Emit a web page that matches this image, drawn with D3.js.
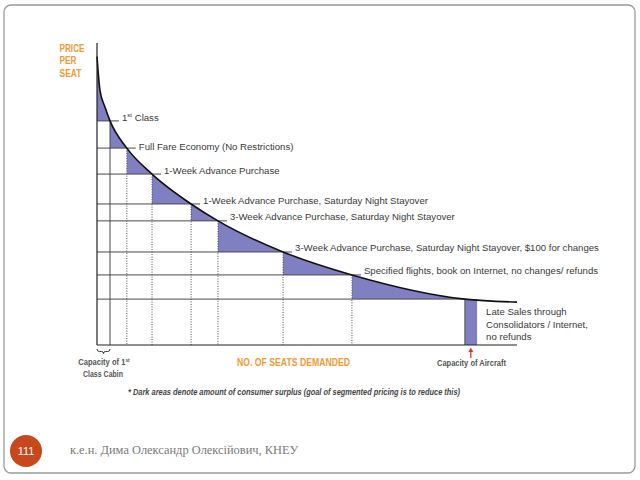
<!DOCTYPE html>
<html><head><meta charset="utf-8">
<script src="https://cdn.jsdelivr.net/npm/d3@7"></script>
<style>body{margin:0;background:#fff}svg{display:block}</style>
</head><body><svg id="c" width="640" height="480"></svg>
<script>
// ---- data ----
const stepLabels = [
  "1st Class",
  "Full Fare Economy (No Restrictions)",
  "1-Week Advance Purchase",
  "1-Week Advance Purchase, Saturday Night Stayover",
  "3-Week Advance Purchase, Saturday Night Stayover",
  "3-Week Advance Purchase, Saturday Night Stayover, $100 for changes",
  "Specified flights, book on Internet, no changes/ refunds"
];
const stepSeats  = [3.1, 7.1, 13.1, 22.4, 28.8, 44.3, 60.7, 87.6];
const stepPrices = [74.2, 65.2, 56.6, 46.7, 41.1, 30.8, 23.2, 15.2];
const curveSeats  = [0, 0.7, 1.9, 3.1, 7.1, 13.1, 22.4, 28.8, 44.3, 60.7, 87.6, 100];
const curvePrices = [95.5, 84.4, 78.8, 74.2, 65.2, 56.6, 46.7, 41.1, 30.8, 23.2, 15.2, 14.2];
const lateSalesSeats = [87.6, 90.5];
const lateSalesPrice = 15.2;
const lateSalesLabel = ["Late Sales through", "Consolidators / Internet,", "no refunds"];
const firstClassCapacity = 3.1;
const aircraftCapacity = 89.0;
const yTitle = ["PRICE", "PER", "SEAT"];
const xTitle = "NO. OF SEATS DEMANDED";
const footnote = "* Dark areas denote amount of consumer surplus (goal of segmented pricing is to reduce this)";
const footer = "к.е.н. Дима Олександр Олексійович, КНЕУ";
const slideNo = "111";

// ---- layout ----
const svg = d3.select("#c");
const x = d3.scaleLinear().domain([0, 100]).range([97, 517]);
const y = d3.scaleLinear().domain([0, 100]).range([345, 43]);
const ORANGE = "#ee9a35", PURPLE = "#7f7fc2", GRID = "#4a4a4a", TXT = "#3a3a3a";
const SANS = "'Liberation Sans', Arial, sans-serif";

function narrow(sel, w) {
  return sel.attr("textLength", w).attr("lengthAdjust", "spacingAndGlyphs");
}

// slide frame
svg.append("rect").attr("x", 4).attr("y", 5).attr("width", 631).attr("height", 468)
  .attr("rx", 7).attr("fill", "none").attr("stroke", "#9b9b9b").attr("stroke-width", 1.3);

const pts = curveSeats.map((s, i) => [s, curvePrices[i]]);
const curveGen = d3.curveMonotoneX;

// shaded consumer-surplus areas
const area = d3.area().x(d => x(d[0])).y0(y(0)).y1(d => y(d[1])).curve(curveGen);
const defs = svg.append("defs");
stepSeats.forEach((s, i) => {
  const prev = i === 0 ? 0 : stepSeats[i - 1];
  defs.append("clipPath").attr("id", "cp" + i).append("rect")
    .attr("x", x(prev)).attr("y", 0)
    .attr("width", x(s) - x(prev)).attr("height", y(stepPrices[i]));
  svg.append("path").attr("d", area(pts)).attr("fill", PURPLE)
    .attr("clip-path", `url(#cp${i})`);
});
// late sales bar
svg.append("rect").attr("x", x(lateSalesSeats[0])).attr("y", y(lateSalesPrice))
  .attr("width", x(lateSalesSeats[1]) - x(lateSalesSeats[0]))
  .attr("height", y(0) - y(lateSalesPrice)).attr("fill", PURPLE);

// horizontal level lines (extend past the corner as label leaders)
stepSeats.forEach((s, i) => {
  const ext = i < stepLabels.length ? 9 : 0;
  svg.append("line").attr("x1", x(0)).attr("x2", x(s) + ext)
    .attr("y1", y(stepPrices[i])).attr("y2", y(stepPrices[i]))
    .attr("stroke", GRID).attr("stroke-width", 1);
});
// vertical lines
stepSeats.forEach((s, i) => {
  svg.append("line").attr("x1", x(s)).attr("x2", x(s))
    .attr("y1", y(stepPrices[i])).attr("y2", y(0))
    .attr("stroke", GRID).attr("stroke-width", 1)
    .attr("stroke-dasharray", i === 0 || i === stepSeats.length - 1 ? null : "1,1.5");
});

// demand curve
svg.append("path").attr("d", d3.line().x(d => x(d[0])).y(d => y(d[1])).curve(curveGen)(pts))
  .attr("fill", "none").attr("stroke", "#111").attr("stroke-width", 1.6);

// axes
svg.append("line").attr("x1", x(0)).attr("x2", x(0)).attr("y1", y(100)).attr("y2", y(0))
  .attr("stroke", "#222").attr("stroke-width", 1.2);
svg.append("line").attr("x1", x(0)).attr("x2", x(100)).attr("y1", y(0)).attr("y2", y(0))
  .attr("stroke", "#222").attr("stroke-width", 1.2);

// step labels
stepLabels.forEach((lab, i) => {
  const t = svg.append("text").attr("x", x(stepSeats[i]) + 12)
    .attr("y", y(stepPrices[i]) + [0, 2, 0, 0, -1, -1, -1][i])
    .attr("font-family", SANS).attr("font-size", 9.6).attr("fill", TXT);
  if (lab.startsWith("1st")) {
    t.append("tspan").text("1");
    t.append("tspan").text("st").attr("font-size", 6).attr("dy", -3.5);
    t.append("tspan").text(" Class").attr("dy", 3.5);
  } else t.text(lab);
});
// late sales label
lateSalesLabel.forEach((l, i) => {
  svg.append("text").attr("x", x(lateSalesSeats[1]) + 9).attr("y", 315 + i * 12.6)
    .attr("font-family", SANS).attr("font-size", 9.6).attr("fill", TXT).text(l);
});

// y title
const yTitleW = [25, 17, 22];
yTitle.forEach((t, i) => {
  narrow(svg.append("text").attr("x", 59.5).attr("y", 52 + i * 12.3)
    .attr("font-family", SANS).attr("font-weight", "bold").attr("font-size", 10.5)
    .attr("fill", ORANGE).text(t), yTitleW[i]);
});
// x title
narrow(svg.append("text").attr("x", 237).attr("y", 366)
  .attr("font-family", SANS).attr("font-weight", "bold").attr("font-size", 10.5)
  .attr("fill", ORANGE).text(xTitle), 113);

// first-class capacity brace + label
const bx0 = x(0), bx1 = x(firstClassCapacity), bm = (bx0 + bx1) / 2, by = y(0) + 4;
svg.append("path")
  .attr("d", `M${bx0},${by} q0,2.5 2.5,2.5 H${bm - 2} q2,0 2,2 q0,-2 2,-2 H${bx1 - 2.5} q2.5,0 2.5,-2.5`)
  .attr("fill", "none").attr("stroke", "#333").attr("stroke-width", 1);
const capG = svg.append("g").attr("transform", "translate(104,365) scale(0.88,1)");
const cap1 = capG.append("text").attr("x", 0).attr("y", 0).attr("text-anchor", "middle")
  .attr("font-family", SANS).attr("font-weight", "bold").attr("font-size", 8.6).attr("fill", "#555");
cap1.append("tspan").text("Capacity of 1");
cap1.append("tspan").text("st").attr("font-size", 5.5).attr("dy", -3);
narrow(svg.append("text").attr("x", 83).attr("y", 376.5)
  .attr("font-family", SANS).attr("font-weight", "bold").attr("font-size", 8.6).attr("fill", "#555")
  .text("Class Cabin"), 40);

// aircraft capacity arrow + label
const ax = x(aircraftCapacity);
svg.append("line").attr("x1", ax).attr("x2", ax).attr("y1", y(0) + 13).attr("y2", y(0) + 6)
  .attr("stroke", "#d8343a").attr("stroke-width", 1.3);
svg.append("path").attr("d", `M${ax - 2.5},${y(0) + 7} L${ax},${y(0) + 2.5} L${ax + 2.5},${y(0) + 7} Z`)
  .attr("fill", "#d8343a");
narrow(svg.append("text").attr("x", 437).attr("y", 366)
  .attr("font-family", SANS).attr("font-weight", "bold").attr("font-size", 8.6).attr("fill", "#555")
  .text("Capacity of Aircraft"), 69);

// footnote
narrow(svg.append("text").attr("x", 128).attr("y", 395)
  .attr("font-family", SANS).attr("font-style", "italic").attr("font-weight", "bold")
  .attr("font-size", 8.8).attr("fill", "#444").text(footnote), 332);

// footer badge + text
svg.append("circle").attr("cx", 26).attr("cy", 451).attr("r", 16).attr("fill", "#c9471c");
svg.append("text").attr("x", 26).attr("y", 455).attr("text-anchor", "middle")
  .attr("font-family", SANS).attr("font-size", 11).attr("fill", "#fff").text(slideNo);
svg.append("text").attr("x", 70).attr("y", 453.5)
  .attr("font-family", "'Liberation Serif', 'Times New Roman', serif").attr("font-size", 12.4)
  .attr("fill", "#7a7a7a").text(footer);
</script></body></html>
